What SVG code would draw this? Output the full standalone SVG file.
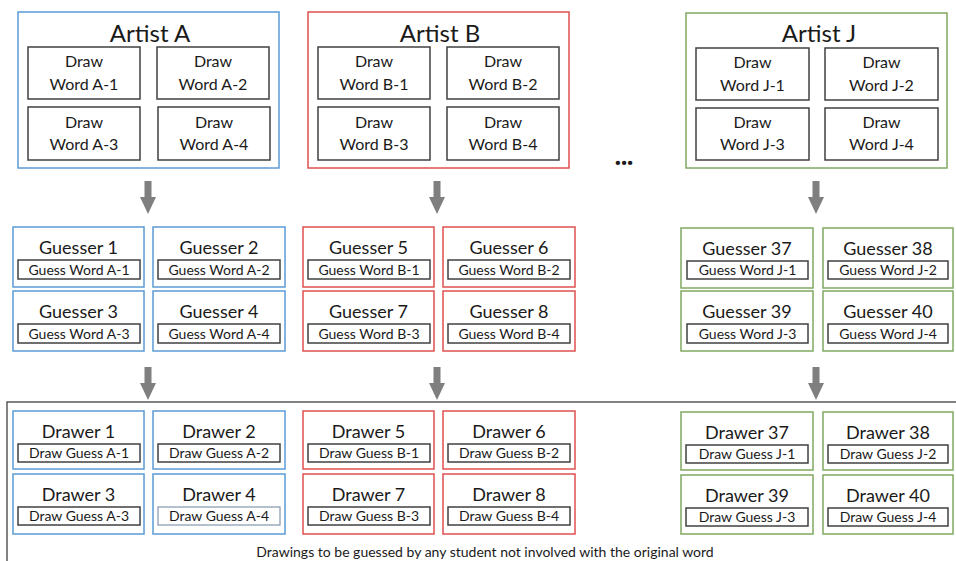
<svg xmlns="http://www.w3.org/2000/svg" width="956" height="561" viewBox="0 0 956 561">
<style>
text{font-family:Lato,"Open Sans","Liberation Sans",sans-serif;fill:#1a1a1a;text-anchor:middle}
rect{fill:#fff}
.a{stroke:#5b9bd5;stroke-width:1.5}
.b{stroke:#e05050;stroke-width:1.5}
.j{stroke:#7fa860;stroke-width:1.5}
.in{stroke:#404040;stroke-width:1.5}
.t1{font-size:24px}
.t2{font-size:16px}
.t3{font-size:18px}
.t4{font-size:14px}
.arr{fill:#7f7f7f}
</style>
<defs>
<path id="arrow" class="arr" d="M-3.5,0 H3.5 V16 H8 L0,33 L-8,16 H-3.5 Z"/>
</defs>
<!-- frame -->
<path d="M7,561 V402 H956" fill="none" stroke="#595959" stroke-width="1.5"/>

<!-- Artists -->
<g id="artistA">
<rect class="a" x="18" y="12" width="261" height="156"/>
<text class="t1" x="150" y="42">Artist A</text>
<rect class="in" x="28" y="47" width="112" height="52"/><text class="t2" x="84" y="67">Draw</text><text class="t2" x="84" y="90">Word A-1</text>
<rect class="in" x="157" y="47" width="112" height="52"/><text class="t2" x="213" y="67">Draw</text><text class="t2" x="213" y="90">Word A-2</text>
<rect class="in" x="28" y="107" width="112" height="53"/><text class="t2" x="84" y="128">Draw</text><text class="t2" x="84" y="150">Word A-3</text>
<rect class="in" x="158" y="107" width="112" height="53"/><text class="t2" x="214" y="128">Draw</text><text class="t2" x="214" y="150">Word A-4</text>
</g>
<g id="artistB">
<rect class="b" x="308" y="12" width="261" height="156"/>
<text class="t1" x="440" y="42">Artist B</text>
<rect class="in" x="318" y="47" width="112" height="52"/><text class="t2" x="374" y="67">Draw</text><text class="t2" x="374" y="90">Word B-1</text>
<rect class="in" x="447" y="47" width="112" height="52"/><text class="t2" x="503" y="67">Draw</text><text class="t2" x="503" y="90">Word B-2</text>
<rect class="in" x="318" y="107" width="112" height="53"/><text class="t2" x="374" y="128">Draw</text><text class="t2" x="374" y="150">Word B-3</text>
<rect class="in" x="447" y="107" width="112" height="53"/><text class="t2" x="503" y="128">Draw</text><text class="t2" x="503" y="150">Word B-4</text>
</g>
<text x="624" y="165" style="font-size:26px;font-weight:900">...</text>
<g id="artistJ">
<rect class="j" x="686" y="13" width="261" height="155"/>
<text class="t1" x="819" y="42">Artist J</text>
<rect class="in" x="696" y="48" width="113" height="52"/><text class="t2" x="752.5" y="68">Draw</text><text class="t2" x="752.5" y="91">Word J-1</text>
<rect class="in" x="825" y="48" width="113" height="52"/><text class="t2" x="881.5" y="68">Draw</text><text class="t2" x="881.5" y="91">Word J-2</text>
<rect class="in" x="696" y="108" width="113" height="52"/><text class="t2" x="752.5" y="128">Draw</text><text class="t2" x="752.5" y="150">Word J-3</text>
<rect class="in" x="825" y="108" width="113" height="52"/><text class="t2" x="881.5" y="128">Draw</text><text class="t2" x="881.5" y="150">Word J-4</text>
</g>

<!-- Connectors -->
<g id="connectors">
<use href="#arrow" x="148" y="181"/>
<use href="#arrow" x="437" y="181"/>
<use href="#arrow" x="816" y="181"/>
<use href="#arrow" x="148" y="367"/>
<use href="#arrow" x="437" y="367"/>
<use href="#arrow" x="816" y="367"/>
</g>

<!-- Guessers -->
<g id="g1"><rect class="a" x="13" y="227" width="131" height="60"/><text class="t3" x="78.5" y="254">Guesser 1</text><rect class="in" x="18" y="260" width="122" height="19"/><text class="t4" x="79" y="275">Guess Word A-1</text></g>
<g id="g2"><rect class="a" x="153" y="227" width="132" height="60"/><text class="t3" x="219" y="254">Guesser 2</text><rect class="in" x="158" y="260" width="122" height="19"/><text class="t4" x="219" y="275">Guess Word A-2</text></g>
<g id="g3"><rect class="a" x="13" y="291" width="131" height="60"/><text class="t3" x="78.5" y="318">Guesser 3</text><rect class="in" x="18" y="324" width="122" height="19"/><text class="t4" x="79" y="339">Guess Word A-3</text></g>
<g id="g4"><rect class="a" x="153" y="291" width="132" height="60"/><text class="t3" x="219" y="318">Guesser 4</text><rect class="in" x="158" y="324" width="122" height="19"/><text class="t4" x="219" y="339">Guess Word A-4</text></g>

<g id="g5"><rect class="b" x="303" y="227" width="131" height="60"/><text class="t3" x="368.5" y="254">Guesser 5</text><rect class="in" x="308" y="260" width="122" height="19"/><text class="t4" x="369" y="275">Guess Word B-1</text></g>
<g id="g6"><rect class="b" x="443" y="227" width="132" height="60"/><text class="t3" x="509" y="254">Guesser 6</text><rect class="in" x="448" y="260" width="122" height="19"/><text class="t4" x="509" y="275">Guess Word B-2</text></g>
<g id="g7"><rect class="b" x="303" y="291" width="131" height="60"/><text class="t3" x="368.5" y="318">Guesser 7</text><rect class="in" x="308" y="324" width="122" height="19"/><text class="t4" x="369" y="339">Guess Word B-3</text></g>
<g id="g8"><rect class="b" x="443" y="291" width="132" height="60"/><text class="t3" x="509" y="318">Guesser 8</text><rect class="in" x="448" y="324" width="122" height="19"/><text class="t4" x="509" y="339">Guess Word B-4</text></g>

<g id="g37"><rect class="j" x="681" y="228" width="132" height="60"/><text class="t3" x="747" y="255">Guesser 37</text><rect class="in" x="687" y="261" width="121" height="18"/><text class="t4" x="747.5" y="275">Guess Word J-1</text></g>
<g id="g38"><rect class="j" x="823" y="228" width="130" height="60"/><text class="t3" x="888" y="255">Guesser 38</text><rect class="in" x="828" y="261" width="120" height="18"/><text class="t4" x="888" y="275">Guess Word J-2</text></g>
<g id="g39"><rect class="j" x="681" y="291" width="132" height="60"/><text class="t3" x="747" y="318">Guesser 39</text><rect class="in" x="687" y="324" width="121" height="19"/><text class="t4" x="747.5" y="339">Guess Word J-3</text></g>
<g id="g40"><rect class="j" x="823" y="291" width="130" height="60"/><text class="t3" x="888" y="318">Guesser 40</text><rect class="in" x="828" y="324" width="120" height="19"/><text class="t4" x="888" y="339">Guess Word J-4</text></g>

<!-- Drawers -->
<g id="d1"><rect class="a" x="13" y="411" width="131" height="58"/><text class="t3" x="78.5" y="438">Drawer 1</text><rect class="in" x="18" y="444" width="122" height="18"/><text class="t4" x="79" y="458">Draw Guess A-1</text></g>
<g id="d2"><rect class="a" x="153" y="411" width="132" height="58"/><text class="t3" x="219" y="438">Drawer 2</text><rect class="in" x="158" y="444" width="122" height="18"/><text class="t4" x="219" y="458">Draw Guess A-2</text></g>
<g id="d3"><rect class="a" x="13" y="474" width="131" height="60"/><text class="t3" x="78.5" y="501">Drawer 3</text><rect class="in" x="18" y="507" width="122" height="18"/><text class="t4" x="79" y="521">Draw Guess A-3</text></g>
<g id="d4"><rect class="a" x="153" y="474" width="132" height="60"/><text class="t3" x="219" y="501">Drawer 4</text><rect x="158" y="507" width="122" height="18" style="stroke:#8497b0;stroke-width:1.2"/><text class="t4" x="219" y="521">Draw Guess A-4</text></g>

<g id="d5"><rect class="b" x="303" y="411" width="131" height="58"/><text class="t3" x="368.5" y="438">Drawer 5</text><rect class="in" x="308" y="444" width="122" height="18"/><text class="t4" x="369" y="458">Draw Guess B-1</text></g>
<g id="d6"><rect class="b" x="443" y="411" width="132" height="58"/><text class="t3" x="509" y="438">Drawer 6</text><rect class="in" x="448" y="444" width="122" height="18"/><text class="t4" x="509" y="458">Draw Guess B-2</text></g>
<g id="d7"><rect class="b" x="303" y="474" width="131" height="60"/><text class="t3" x="368.5" y="501">Drawer 7</text><rect class="in" x="308" y="507" width="122" height="18"/><text class="t4" x="369" y="521">Draw Guess B-3</text></g>
<g id="d8"><rect class="b" x="443" y="474" width="132" height="60"/><text class="t3" x="509" y="501">Drawer 8</text><rect class="in" x="448" y="507" width="122" height="18"/><text class="t4" x="509" y="521">Draw Guess B-4</text></g>

<g id="d37"><rect class="j" x="681" y="412" width="132" height="58"/><text class="t3" x="747" y="439">Drawer 37</text><rect class="in" x="686" y="445" width="122" height="18"/><text class="t4" x="747" y="459">Draw Guess J-1</text></g>
<g id="d38"><rect class="j" x="823" y="412" width="130" height="58"/><text class="t3" x="888" y="439">Drawer 38</text><rect class="in" x="828" y="445" width="120" height="18"/><text class="t4" x="888" y="459">Draw Guess J-2</text></g>
<g id="d39"><rect class="j" x="681" y="475" width="132" height="59"/><text class="t3" x="747" y="502">Drawer 39</text><rect class="in" x="686" y="508" width="122" height="18"/><text class="t4" x="747" y="522">Draw Guess J-3</text></g>
<g id="d40"><rect class="j" x="823" y="475" width="130" height="59"/><text class="t3" x="888" y="502">Drawer 40</text><rect class="in" x="828" y="508" width="120" height="18"/><text class="t4" x="888" y="522">Draw Guess J-4</text></g>

<text class="t4" x="485" y="557">Drawings to be guessed by any student not involved with the original word</text>
</svg>
